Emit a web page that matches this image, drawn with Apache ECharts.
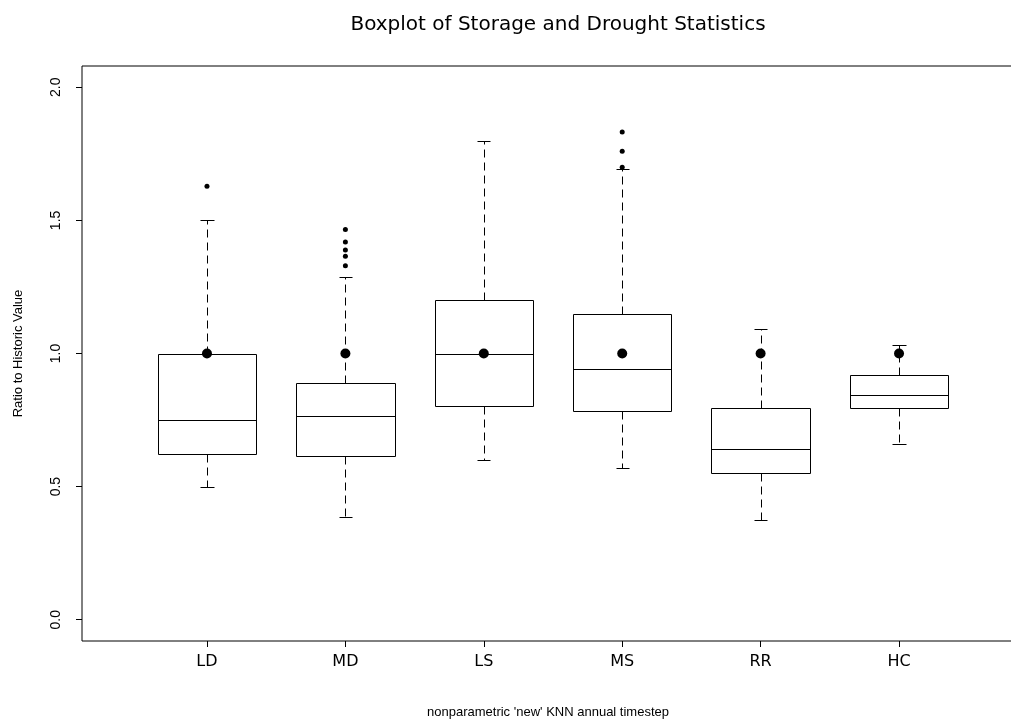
<!DOCTYPE html>
<html>
<head>
<meta charset="utf-8">
<script src="https://cdn.jsdelivr.net/npm/echarts@6/dist/echarts.min.js"></script>
<style>
html,body{margin:0;padding:0;background:#fff;}
#chart{width:1011px;height:721px;}
</style>
</head>
<body>
<div id="chart"></div>
<script>
// ---- data ----
const categories = ['LD', 'MD', 'LS', 'MS', 'RR', 'HC'];
const lowerWhisker = [0.500, 0.384, 0.600, 0.569, 0.374, 0.659];
const q1 = [0.624, 0.614, 0.801, 0.785, 0.551, 0.794];
const median = [0.750, 0.766, 1.000, 0.940, 0.640, 0.845];
const q3 = [1.000, 0.888, 1.200, 1.148, 0.794, 0.920];
const upperWhisker = [1.500, 1.289, 1.800, 1.694, 1.092, 1.031];
const historic = [1.0, 1.0, 1.0, 1.0, 1.0, 1.0];
const outliersLD = [1.628];
const outliersMD = [1.466, 1.419, 1.389, 1.365, 1.330];
const outliersMS = [1.832, 1.760, 1.700];
const yTicks = [0.0, 0.5, 1.0, 1.5, 2.0];
const xTicks = [1, 2, 3, 4, 5, 6];

// ---- build series data ----
const boxData = categories.map((c, i) => [i + 1, lowerWhisker[i], q1[i], median[i], q3[i], upperWhisker[i]]);
const histData = categories.map((c, i) => [i + 1, historic[i]]);
const outlierData = [];
outliersLD.forEach(v => outlierData.push([1, v]));
outliersMD.forEach(v => outlierData.push([2, v]));
outliersMS.forEach(v => outlierData.push([4, v]));

const FONT = '"Liberation Sans", Arial, Helvetica, sans-serif';
const WIDE = '"DejaVu Sans", "Liberation Sans", Arial, sans-serif';
const BOX_W = 0.71;   // box width in axis units
const CAP_W = 0.095;  // whisker cap width in axis units
const px = v => Math.round(v) + 0.5;

function renderBox(params, api) {
  const x = api.value(0);
  const lo = api.coord([x, api.value(1)]);
  const b1 = api.coord([x, api.value(2)]);
  const md = api.coord([x, api.value(3)]);
  const b3 = api.coord([x, api.value(4)]);
  const hi = api.coord([x, api.value(5)]);
  const half = api.size([BOX_W, 0])[0] / 2;
  const capHalf = api.size([CAP_W, 0])[0] / 2;
  const cx = px(lo[0]);
  const L = px(lo[0] - half), R = px(lo[0] + half);
  const solid = {stroke: '#000', lineWidth: 1, fill: null};
  const dashed = {stroke: '#000', lineWidth: 1, lineDash: [8, 5], fill: null};
  return {
    type: 'group',
    children: [
      {type: 'line', shape: {x1: cx, y1: px(b3[1]), x2: cx, y2: px(hi[1])}, style: dashed},
      {type: 'line', shape: {x1: cx, y1: px(b1[1]), x2: cx, y2: px(lo[1])}, style: dashed},
      {type: 'line', shape: {x1: px(lo[0] - capHalf), y1: px(hi[1]), x2: px(lo[0] + capHalf), y2: px(hi[1])}, style: solid},
      {type: 'line', shape: {x1: px(lo[0] - capHalf), y1: px(lo[1]), x2: px(lo[0] + capHalf), y2: px(lo[1])}, style: solid},
      {type: 'rect', shape: {x: L, y: px(b3[1]), width: R - L, height: px(b1[1]) - px(b3[1])}, style: {stroke: '#000', lineWidth: 1, fill: '#fff'}},
      {type: 'line', shape: {x1: L, y1: px(md[1]), x2: R, y2: px(md[1])}, style: solid}
    ]
  };
}

const chart = echarts.init(document.getElementById('chart'), null, {renderer: 'canvas'});
chart.setOption({
  animation: false,
  backgroundColor: '#fff',
  title: {
    text: 'Boxplot of Storage and Drought Statistics',
    left: 553,
    top: 10,
    textAlign: 'center',
    textStyle: {fontFamily: WIDE, fontSize: 20, fontWeight: 'normal', color: '#000'}
  },
  grid: {
    left: 82, width: 942, top: 66, height: 575,
    outerBoundsMode: 'none',
    containLabel: false,
    show: true, borderColor: '#000', borderWidth: 1, backgroundColor: 'transparent'
  },
  xAxis: {
    type: 'value',
    min: 0.097, max: 6.903,
    name: "nonparametric 'new' KNN annual timestep",
    nameLocation: 'middle',
    nameGap: 65,
    nameTextStyle: {fontFamily: FONT, fontSize: 13, color: '#000', padding: [0, 10, 0, 0]},
    axisLine: {show: false, onZero: false},
    splitLine: {show: false},
    axisTick: {show: true, customValues: xTicks, length: 6, lineStyle: {color: '#000'}},
    axisLabel: {
      customValues: xTicks, margin: 13,
      fontFamily: WIDE, fontSize: 16, color: '#000',
      formatter: v => categories[Math.round(v) - 1] || ''
    }
  },
  yAxis: {
    type: 'value',
    min: -0.08, max: 2.08,
    name: 'Ratio to Historic Value',
    nameLocation: 'middle',
    nameRotate: 90,
    nameGap: 57,
    nameTextStyle: {fontFamily: FONT, fontSize: 13, color: '#000'},
    axisLine: {show: false, onZero: false},
    splitLine: {show: false},
    axisTick: {show: true, customValues: yTicks, length: 6, lineStyle: {color: '#000'}},
    axisLabel: {
      customValues: yTicks, margin: 19, rotate: 90,
      fontFamily: FONT, fontSize: 14, color: '#000',
      formatter: v => v.toFixed(1)
    }
  },
  series: [
    {
      type: 'custom',
      renderItem: renderBox,
      data: boxData,
      encode: {x: 0, y: [1, 2, 3, 4, 5]},
      z: 2
    },
    {
      type: 'scatter',
      data: histData,
      symbol: 'circle',
      symbolSize: 10,
      itemStyle: {color: '#000', opacity: 1},
      z: 5
    },
    {
      type: 'scatter',
      data: outlierData,
      symbol: 'circle',
      symbolSize: 5,
      itemStyle: {color: '#000', opacity: 1},
      z: 5
    }
  ]
});
</script>
</body>
</html>
